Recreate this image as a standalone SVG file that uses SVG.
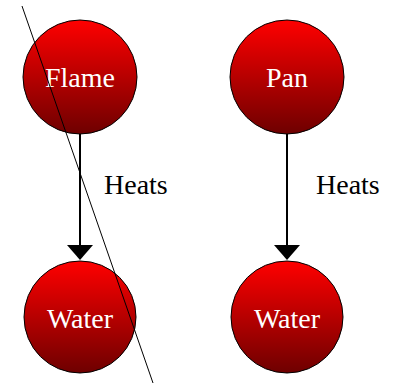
<svg xmlns="http://www.w3.org/2000/svg" width="401" height="386" viewBox="0 0 401 386">
<defs>
<linearGradient id="g" x1="0" y1="0" x2="0" y2="1">
<stop offset="0" stop-color="#ff0000"/>
<stop offset="1" stop-color="#6e0000"/>
</linearGradient>
</defs>
<style>
.node circle{fill:url(#g);stroke:#000;stroke-width:1}
.node text{fill:#fff;font-family:'Liberation Serif',serif;font-size:28px;text-anchor:middle}
.lbl{fill:#000;font-family:'Liberation Serif',serif;font-size:28px}
.edge{stroke:#000;stroke-width:2;fill:none}
.head{fill:#000}
</style>
<g id="connectors">
<line class="edge" x1="80" y1="133" x2="80" y2="247"/>
<polygon class="head" points="67,245 93,245 80,260"/>
<text class="lbl" x="104" y="194">Heats</text>
<line class="edge" x1="287" y1="133" x2="287" y2="247"/>
<polygon class="head" points="274,245 300,245 287,260"/>
<text class="lbl" x="316" y="194">Heats</text>
</g>
<g id="flame" class="node"><circle cx="80" cy="77" r="57"/><text x="80" y="87">Flame</text></g>
<g id="water1" class="node"><circle cx="80" cy="317" r="56"/><text x="80" y="328">Water</text></g>
<g id="pan" class="node"><circle cx="287" cy="77" r="57"/><text x="287" y="87">Pan</text></g>
<g id="water2" class="node"><circle cx="287" cy="317" r="56"/><text x="287" y="328">Water</text></g>
<line x1="22" y1="6" x2="153" y2="383" stroke="#000" stroke-width="1"/>
</svg>
